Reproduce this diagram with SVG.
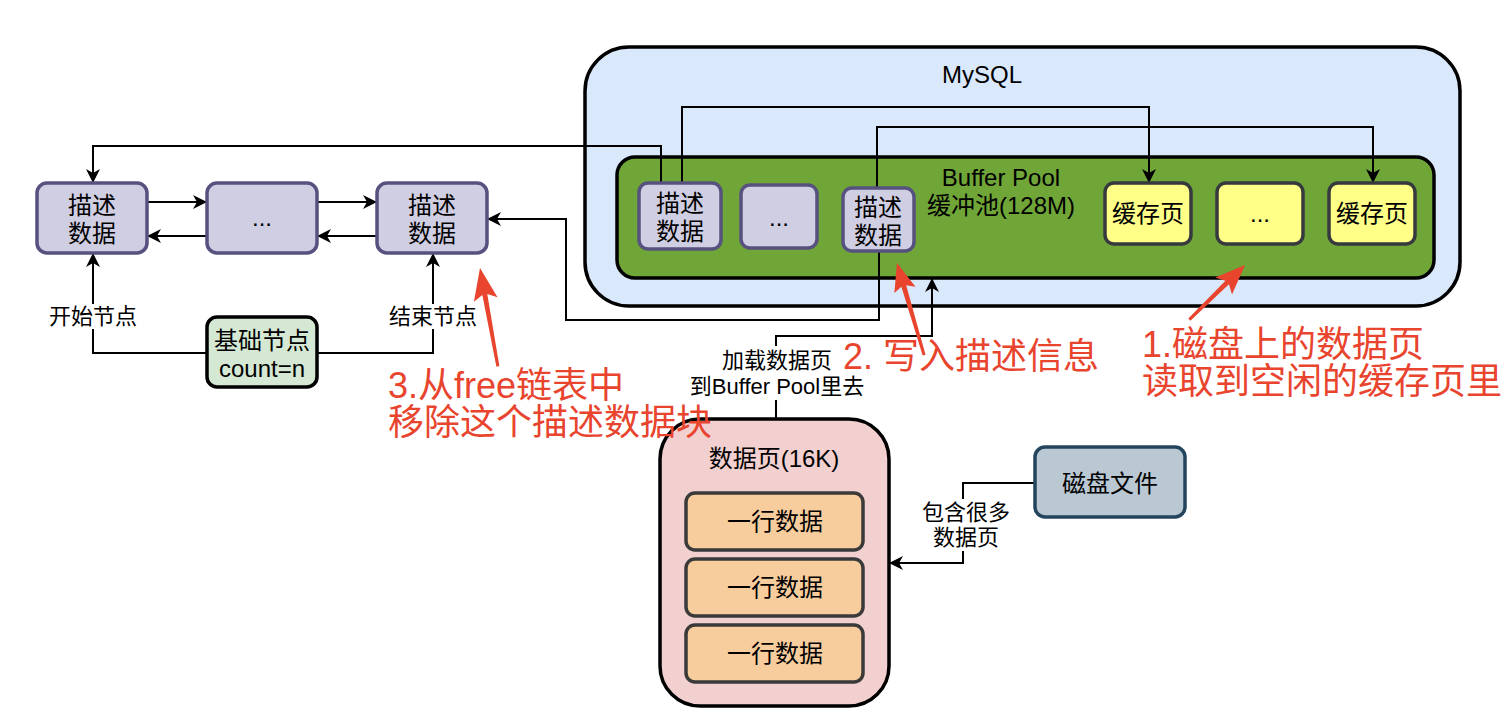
<svg xmlns="http://www.w3.org/2000/svg" width="1508" height="722" viewBox="0 0 1508 722">
<defs>
<style>
.t{font-family:"Liberation Sans","Noto Sans CJK SC",sans-serif;font-size:24px;fill:#000;text-anchor:middle}
.e{font-size:22px}
.r{font-family:"Liberation Sans","Noto Sans CJK SC",sans-serif;font-size:36px;fill:#e8442e}
.c{fill:none;stroke:#000;stroke-width:2}
.desc{fill:#d0cee2;stroke:#56517e;stroke-width:3.5}
.cache{fill:#ffff88;stroke:#36393d;stroke-width:3.5}
.row{fill:#f8cd9d;stroke:#3a3a3a;stroke-width:3.5}
.lbl{fill:#fff}
.red{fill:#e8442e}
</style>
<marker id="a" markerUnits="userSpaceOnUse" markerWidth="16" markerHeight="16" viewBox="0 0 16 16" refX="15" refY="8" orient="auto"><path d="M1,1 L15,8 L1,15 L5,8 Z" fill="#000"/></marker>
</defs>
<rect width="1508" height="722" fill="#fff"/>

<g id="mysql">
<rect x="585" y="47" width="875" height="259" rx="44" fill="#dae8fc" stroke="#000" stroke-width="3.5"/>
<text class="t" x="982" y="83">MySQL</text>
</g>
<g id="bufferpool">
<rect x="617" y="157" width="817" height="121" rx="18" fill="#70a538" stroke="#000" stroke-width="3.5"/>
<text class="t" x="1001" y="186">Buffer Pool</text>
<text class="t" x="1001" y="214">缓冲池(128M)</text>
</g>

<g id="connectors">
<polyline class="c" points="661,183 661,146 93,146 93,183" marker-end="url(#a)"/>
<polyline class="c" points="682,183 682,107 1149,107 1149,183" marker-end="url(#a)"/>
<polyline class="c" points="877,188 877,127 1373,127 1373,183" marker-end="url(#a)"/>
<polyline class="c" points="879,251 879,320 566,320 566,219 487,219" marker-end="url(#a)"/>
<line class="c" x1="147" y1="202" x2="207" y2="202" marker-end="url(#a)"/>
<line class="c" x1="317" y1="202" x2="377" y2="202" marker-end="url(#a)"/>
<line class="c" x1="207" y1="236" x2="147" y2="236" marker-end="url(#a)"/>
<line class="c" x1="377" y1="236" x2="317" y2="236" marker-end="url(#a)"/>
<polyline class="c" points="207,353 93,353 93,253" marker-end="url(#a)"/>
<polyline class="c" points="317,353 433,353 433,253" marker-end="url(#a)"/>
<polyline class="c" points="776,419 776,336 932,336 932,278" marker-end="url(#a)"/>
<polyline class="c" points="1035,483 963,483 963,563 889,563" marker-end="url(#a)"/>
<rect class="lbl" x="47" y="304" width="92" height="25"/>
<text class="t e" x="93" y="324">开始节点</text>
<rect class="lbl" x="387" y="304" width="92" height="25"/>
<text class="t e" x="433" y="324">结束节点</text>
<rect class="lbl" x="689" y="346" width="176" height="54"/>
<text class="t e" x="777" y="368">加载数据页</text>
<text class="t e" x="777" y="394">到Buffer Pool里去</text>
<rect class="lbl" x="921" y="499" width="88" height="52"/>
<text class="t e" x="966" y="520">包含很多</text>
<text class="t e" x="966" y="545">数据页</text>
</g>

<g id="list-head">
<rect class="desc" x="37" y="183" width="110" height="70" rx="10"/>
<text class="t" x="92" y="214">描述</text>
<text class="t" x="92" y="242">数据</text>
</g>
<g id="list-mid">
<rect class="desc" x="207" y="183" width="110" height="70" rx="10"/>
<text class="t" x="262" y="226">...</text>
</g>
<g id="list-tail">
<rect class="desc" x="377" y="183" width="110" height="70" rx="10"/>
<text class="t" x="432" y="214">描述</text>
<text class="t" x="432" y="242">数据</text>
</g>
<g id="base">
<rect x="207" y="317" width="110" height="70" rx="10" fill="#d5e8d4" stroke="#000" stroke-width="3.5"/>
<text class="t" x="262" y="349">基础节点</text>
<text class="t" x="262" y="377">count=n</text>
</g>

<g id="desc1">
<rect class="desc" x="639" y="183" width="82" height="66" rx="9"/>
<text class="t" x="680" y="212">描述</text>
<text class="t" x="680" y="240">数据</text>
</g>
<g id="desc2">
<rect class="desc" x="741" y="185" width="76" height="63" rx="9"/>
<text class="t" x="779" y="226">...</text>
</g>
<g id="desc3">
<rect class="desc" x="843" y="188" width="71" height="63" rx="9"/>
<text class="t" x="878" y="216">描述</text>
<text class="t" x="878" y="244">数据</text>
</g>

<g id="cache1">
<rect class="cache" x="1105" y="183" width="86" height="61" rx="9"/>
<text class="t" x="1148" y="222">缓存页</text>
</g>
<g id="cache2">
<rect class="cache" x="1217" y="183" width="86" height="61" rx="9"/>
<text class="t" x="1260" y="222">...</text>
</g>
<g id="cache3">
<rect class="cache" x="1329" y="183" width="86" height="61" rx="9"/>
<text class="t" x="1372" y="222">缓存页</text>
</g>

<g id="datapage">
<rect x="660" y="419" width="229" height="287" rx="40" fill="#f2d0cf" stroke="#000" stroke-width="3.5"/>
<text class="t" x="774" y="467">数据页(16K)</text>
</g>
<g id="row1">
<rect class="row" x="686" y="493" width="177" height="57" rx="9"/>
<text class="t" x="775" y="530">一行数据</text>
</g>
<g id="row2">
<rect class="row" x="686" y="559" width="177" height="57" rx="9"/>
<text class="t" x="775" y="596">一行数据</text>
</g>
<g id="row3">
<rect class="row" x="686" y="625" width="177" height="57" rx="9"/>
<text class="t" x="775" y="662">一行数据</text>
</g>
<g id="disk">
<rect x="1035" y="447" width="150" height="70" rx="10" fill="#bac8d3" stroke="#23445d" stroke-width="3.5"/>
<text class="t" x="1110" y="492">磁盘文件</text>
</g>

<g id="annotations">
<polygon class="red" points="0,0 -32,-12 -27,-2.5 -100,-1.5 -100,1.5 -27,2.5 -32,12" transform="translate(480,268) rotate(-100.3)"/>
<polygon class="red" points="0,0 -28,-11 -24,-2.5 -96,-1.5 -96,1.5 -24,2.5 -28,11" transform="translate(897,263) rotate(-106.4)"/>
<polygon class="red" points="0,0 -30,-12 -25,-2.5 -78,-1.5 -78,1.5 -25,2.5 -30,12" transform="translate(1245,265) rotate(-44.5)"/>
<text class="r" x="388" y="398">3.从free链表中</text>
<text class="r" x="388" y="435">移除这个描述数据块</text>
<text class="r" x="843" y="369">2. 写入描述信息</text>
<text class="r" x="1142" y="357">1.磁盘上的数据页</text>
<text class="r" x="1142" y="394">读取到空闲的缓存页里</text>
</g>
</svg>
